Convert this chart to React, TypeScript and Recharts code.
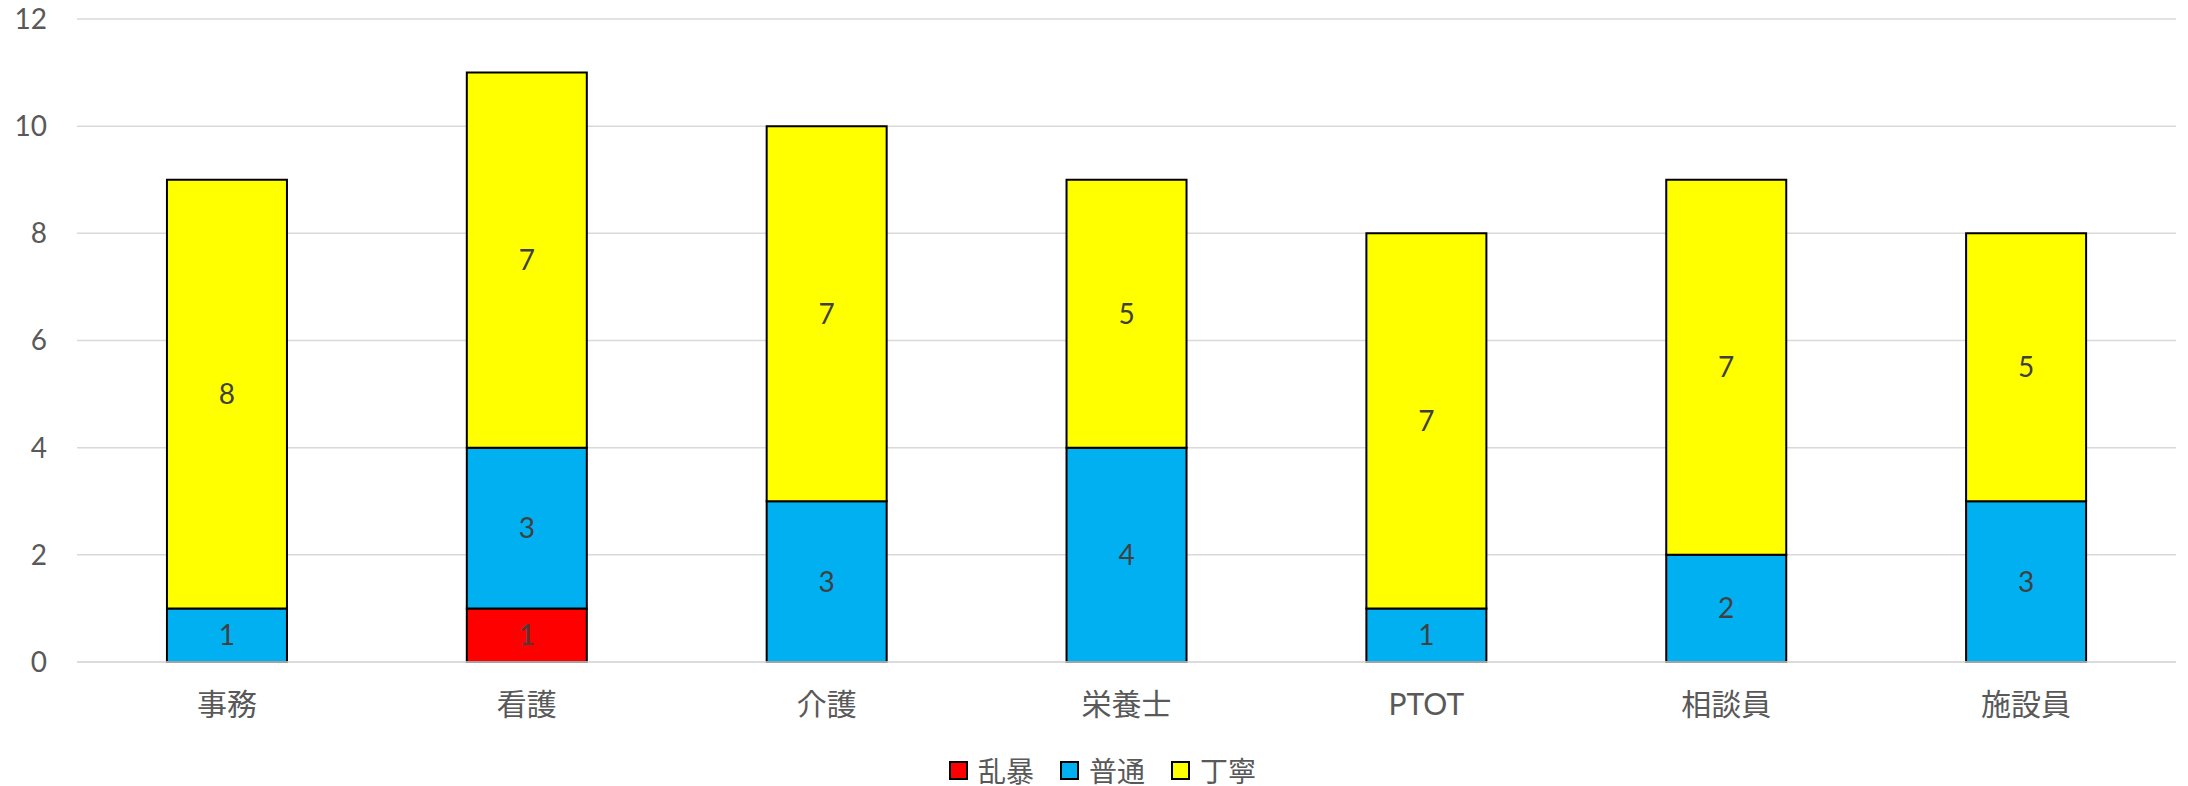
import { Bar, BarChart, CartesianGrid, LabelList, Legend, XAxis, YAxis } from "recharts";

const categories = ["事務", "看護", "介護", "栄養士", "PTOT", "相談員", "施設員"];
const violent = [0, 1, 0, 0, 0, 0, 0];
const normal = [1, 3, 3, 4, 1, 2, 3];
const polite = [8, 7, 7, 5, 7, 7, 5];
const yTicks = [0, 2, 4, 6, 8, 10, 12];

const series = [
  { key: "violent", name: "乱暴", color: "#ff0000" },
  { key: "normal", name: "普通", color: "#00b0f0" },
  { key: "polite", name: "丁寧", color: "#ffff00" },
];

const data = categories.map((name, i) => ({
  name,
  violent: violent[i],
  normal: normal[i],
  polite: polite[i],
}));

const FONT = "Lato, 'Noto Sans CJK JP', sans-serif";

function hideZero(v: unknown) {
  return v === 0 ? "" : String(v);
}

function LegendBox() {
  return (
    <div style={{ display: "flex", alignItems: "center", paddingLeft: 949, height: 44, fontFamily: FONT, fontSize: 28, color: "#595959" }}>
      {series.map((s) => (
        <div key={s.key} style={{ display: "flex", alignItems: "center", marginRight: 26 }}>
          <span style={{ width: 15, height: 15, background: s.color, border: "2px solid #000", marginRight: 10 }} />
          <span>{s.name}</span>
        </div>
      ))}
    </div>
  );
}

export default function App() {
  return (
    <div style={{ position: "absolute", left: 0, top: 0, background: "#fff" }}>
      <BarChart
        width={2188}
        height={786}
        data={data}
        margin={{ top: 19, right: 12, bottom: 0, left: 0 }}
        barCategoryGap="30%"
      >
        <CartesianGrid vertical={false} stroke="#d9d9d9" strokeWidth={1.5} />
        <XAxis
          dataKey="name"
          axisLine={{ stroke: "#d9d9d9", strokeWidth: 1.5 }}
          tickLine={false}
          tickMargin={26}
          height={80}
          tick={{ fill: "#595959", fontSize: 30, fontFamily: FONT }}
        />
        <YAxis
          width={77}
          domain={[0, 12]}
          ticks={yTicks}
          axisLine={false}
          tickLine={false}
          tickMargin={24}
          tick={{ fill: "#595959", fontSize: 28, fontFamily: FONT }}
        />
        <Legend content={<LegendBox />} wrapperStyle={{ top: 748, left: 0, width: 2188 }} />
        {series.map((s) => (
          <Bar key={s.key} dataKey={s.key} name={s.name} stackId="a" fill={s.color} stroke="#000" strokeWidth={2} isAnimationActive={false}>
            <LabelList dataKey={s.key} position="center" formatter={hideZero} fill="#404040" fontSize={28} fontFamily={FONT} />
          </Bar>
        ))}
      </BarChart>
    </div>
  );
}
